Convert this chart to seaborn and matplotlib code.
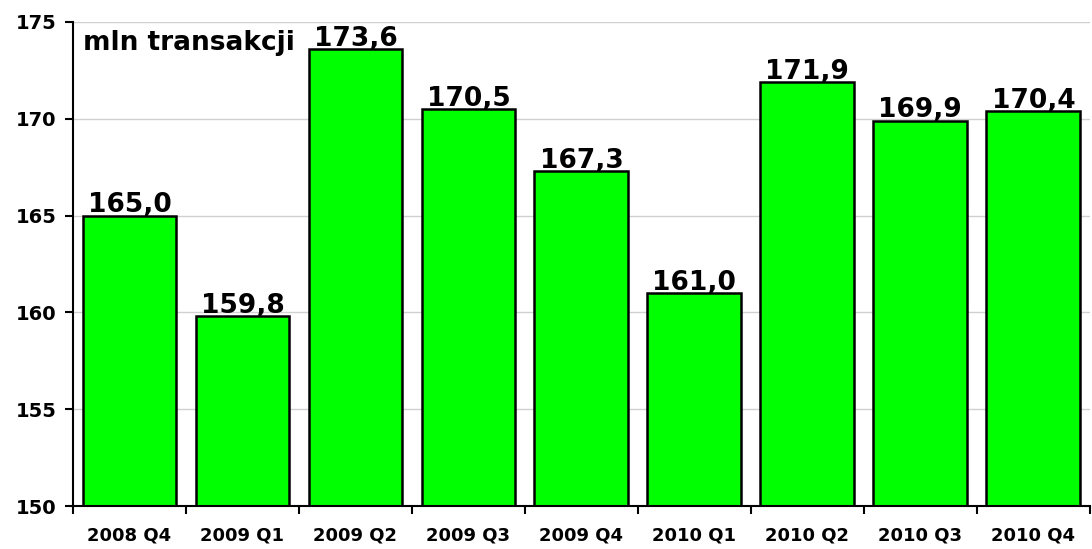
import matplotlib
matplotlib.use("Agg")
import matplotlib.pyplot as plt
import seaborn as sns
import pandas as pd
import numpy as np

categories = ["2008 Q4", "2009 Q1", "2009 Q2", "2009 Q3", "2009 Q4",
              "2010 Q1", "2010 Q2", "2010 Q3", "2010 Q4"]
values = [165.0, 159.8, 173.6, 170.5, 167.3, 161.0, 171.9, 169.9, 170.4]
yticks = [150, 155, 160, 165, 170, 175]

sns.set_theme(style="white")
plt.rcParams['font.family'] = ['DejaVu Sans']
plt.rcParams['font.weight'] = 'bold'
plt.rcParams['text.color'] = 'black'
plt.rcParams['xtick.color'] = 'black'
plt.rcParams['ytick.color'] = 'black'

df = pd.DataFrame({"kw": categories, "val": values})

fig = plt.figure(figsize=(10.92, 5.49), dpi=100)
ax = fig.add_axes([0.0668, 0.0783, 0.9312, 0.8817])

for y in yticks:
    ax.axhline(y, color="#d0d0d0", lw=1.0, zorder=0)

sns.barplot(data=df, x="kw", y="val", color="#00FF00", saturation=1,
            width=0.83, edgecolor="black", linewidth=1.8, ax=ax, zorder=2)

ax.set_ylim(150, 175)
ax.set_xlim(-0.5, len(categories) - 0.5)
ax.set_yticks(yticks)
ax.set_yticklabels([str(v) for v in yticks], fontsize=14, fontweight="bold", color="black")
ax.set_xticks(range(len(categories)))
ax.set_xticklabels(categories, fontsize=13, fontweight="bold", color="black")
ax.set_xticks(np.arange(-0.5, len(categories), 1.0), minor=True)
ax.tick_params(axis="x", which="major", length=0, pad=15)
ax.tick_params(axis="x", which="minor", length=6, width=1.5, color="black", direction="out", bottom=True)
ax.tick_params(axis="y", length=6, width=1.5, color="black", direction="out", left=True, pad=6)
ax.set_xlabel("")
ax.set_ylabel("")

for s in ["top", "right"]:
    ax.spines[s].set_visible(False)
for s in ["left", "bottom"]:
    ax.spines[s].set_color("black")
    ax.spines[s].set_linewidth(1.5)

for i, v in enumerate(values):
    ax.annotate(f"{v:.1f}".replace(".", ","), (i, v), xytext=(0, -2),
                textcoords="offset points", ha="center", va="bottom",
                fontsize=19, fontweight="bold", color="black", zorder=5)

ax.text(0.01, 0.983, "mln transakcji", transform=ax.transAxes, ha="left", va="top",
        fontsize=19, fontweight="bold", color="black")

fig.savefig("out.png", dpi=100)
